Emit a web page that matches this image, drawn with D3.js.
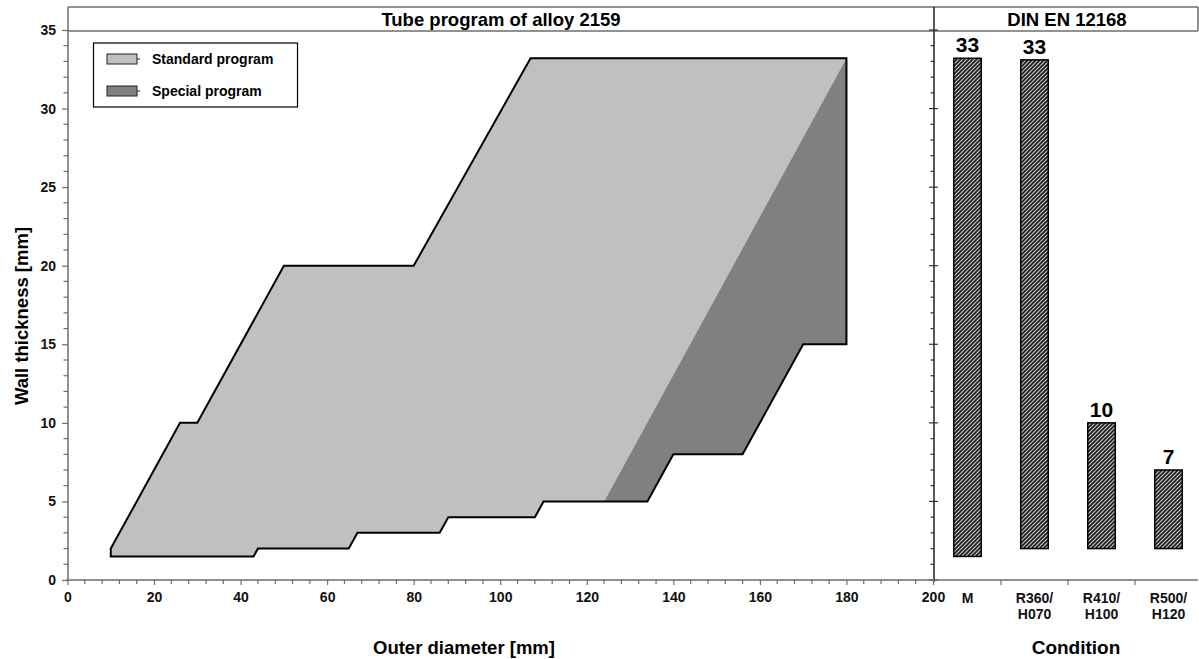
<!DOCTYPE html>
<html>
<head>
<meta charset="utf-8">
<script src="https://cdn.jsdelivr.net/npm/d3@7"></script>
<style>
  body { margin: 0; background: #fff; }
  svg { font-family: "Liberation Sans", Arial, sans-serif; font-weight: bold; }
</style>
</head>
<body>
<div id="container"></div>
<script>
// outline of the standard program [outer diameter, wall thickness]
const standardProgram = [
  [10, 1.5], [10, 2], [26, 10], [30, 10], [50, 20], [80, 20], [107, 33.2], [180, 33.2],
  [124, 5], [110, 5], [108, 4], [88, 4], [86, 3], [67, 3], [65, 2], [44, 2], [43, 1.5]
];
// outline of the special program
const specialProgram = [
  [124, 5], [134, 5], [140, 8], [156, 8], [170, 15], [180, 15], [180, 33.2]
];

// DIN EN 12168 conditions: wall thickness range
const conditions = ['M', 'R360/H070', 'R410/H100', 'R500/H120'];
const condMin = [1.5, 2, 2, 2];
const condMax = [33.2, 33.1, 10, 7];
const condLabels = ['33', '33', '10', '7'];

const xTicks = [0, 20, 40, 60, 80, 100, 120, 140, 160, 180, 200];
const yTicks = [0, 5, 10, 15, 20, 25, 30, 35];

const W = 1199, H = 659;
const frameTop = 7, headerBottom = 31, frameRight = 1198;

const svg = d3.select('#container')
  .append('svg')
  .attr('width', W)
  .attr('height', H);

// scales
const x = d3.scaleLinear().domain([0, 200]).range([67.5, 933]);
const y = d3.scaleLinear().domain([0, 35]).range([580, 30]);
const band = d3.scaleBand().domain(conditions).range([934, 1202]);

// hatch pattern for the bars
const defs = svg.append('defs');
const pat = defs.append('pattern')
  .attr('id', 'hatch')
  .attr('patternUnits', 'userSpaceOnUse')
  .attr('width', 4).attr('height', 4);
pat.append('rect').attr('width', 4).attr('height', 4).attr('fill', '#c4c4c4');
pat.append('path')
  .attr('d', 'M-1,1 l2,-2 M0,4 l4,-4 M3,5 l2,-2')
  .attr('stroke', '#1a1a1a')
  .attr('stroke-width', 1.6);

// program areas
const line = d3.line().x(d => x(d[0])).y(d => y(d[1]));

svg.append('path')
  .attr('d', line(standardProgram) + 'Z')
  .attr('fill', '#c0c0c0');

svg.append('path')
  .attr('d', line(specialProgram) + 'Z')
  .attr('fill', '#808080');

// outer outline of both areas
const specialRev = specialProgram.slice().reverse();
const outline = standardProgram.slice(0, 8)
  .concat(specialRev.slice(1))
  .concat(standardProgram.slice(9));
svg.append('path')
  .attr('d', line(outline) + 'Z')
  .attr('fill', 'none')
  .attr('stroke', '#000')
  .attr('stroke-width', 2)
  .attr('stroke-linejoin', 'miter');

// frame lines
const frameColor = '#6e6e6e';
const frame = svg.append('g').attr('stroke', frameColor).attr('stroke-width', 1.5);
frame.append('line').attr('x1', 68).attr('x2', frameRight).attr('y1', frameTop).attr('y2', frameTop);
frame.append('line').attr('x1', 68).attr('x2', frameRight).attr('y1', headerBottom).attr('y2', headerBottom);
frame.append('line').attr('x1', 68).attr('x2', 68).attr('y1', frameTop).attr('y2', 581);
frame.append('line').attr('x1', 934).attr('x2', 934).attr('y1', frameTop).attr('y2', 582)
  .attr('stroke', '#222');
frame.append('line').attr('x1', frameRight).attr('x2', frameRight).attr('y1', frameTop).attr('y2', headerBottom);

// y axis (left)
const yAxis = d3.axisLeft(y).tickValues(yTicks).tickSize(6).tickPadding(6);
const gy = svg.append('g').attr('transform', 'translate(68,0)').call(yAxis);
gy.select('.domain').remove();
gy.selectAll('.tick line').attr('stroke', frameColor).attr('stroke-width', 1.2);
gy.selectAll('text').attr('font-size', 14).attr('font-weight', 'bold').attr('fill', '#111');

const yMinor = d3.range(0, 36).filter(v => v % 5 !== 0);
svg.append('g').selectAll('line').data(yMinor).join('line')
  .attr('x1', 63.5).attr('x2', 68)
  .attr('y1', d => y(d)).attr('y2', d => y(d))
  .attr('stroke', frameColor).attr('stroke-width', 1.2);

// ticks on the separator
svg.append('g').selectAll('line').data(d3.range(0, 36)).join('line')
  .attr('x1', d => d % 5 === 0 ? 929 : 930.5)
  .attr('x2', d => d % 5 === 0 ? 938 : 934)
  .attr('y1', d => y(d)).attr('y2', d => y(d))
  .attr('stroke', '#333').attr('stroke-width', 1.2);

// x axis (bottom)
const xAxis = d3.axisBottom(x).tickValues(xTicks).tickSize(5).tickPadding(7);
const gx = svg.append('g').attr('transform', 'translate(0,580)').call(xAxis);
gx.select('.domain').remove();
gx.selectAll('.tick line').attr('stroke', frameColor).attr('stroke-width', 1.2);
gx.selectAll('text').attr('font-size', 14).attr('font-weight', 'bold').attr('fill', '#111');

const xMinor = d3.range(0, 201, 4).filter(v => v % 20 !== 0);
svg.append('g').selectAll('line').data(xMinor).join('line')
  .attr('x1', d => x(d)).attr('x2', d => x(d))
  .attr('y1', 580).attr('y2', 584)
  .attr('stroke', frameColor).attr('stroke-width', 1.2);

svg.append('line')
  .attr('x1', 66).attr('x2', frameRight).attr('y1', 580).attr('y2', 580)
  .attr('stroke', frameColor).attr('stroke-width', 1.5);

// condition axis ticks and labels
svg.append('g').selectAll('line').data(conditions.slice(1)).join('line')
  .attr('x1', d => band(d)).attr('x2', d => band(d))
  .attr('y1', 580).attr('y2', 585)
  .attr('stroke', frameColor).attr('stroke-width', 1.2);

const condText = svg.append('g').selectAll('text').data(conditions).join('text')
  .attr('x', d => band(d) + band.bandwidth() / 2)
  .attr('y', 603)
  .attr('text-anchor', 'middle')
  .attr('font-size', 14)
  .attr('fill', '#111');
condText.each(function (d) {
  const parts = d.split('/');
  const t = d3.select(this);
  parts.forEach((p, i) => {
    t.append('tspan')
      .attr('x', band(d) + band.bandwidth() / 2)
      .attr('dy', i === 0 ? 0 : 16)
      .text(i < parts.length - 1 ? p + '/' : p);
  });
});

// condition bars
const barW = band.bandwidth() * 0.41;
svg.append('g').selectAll('rect').data(conditions).join('rect')
  .attr('x', d => band(d) + band.bandwidth() / 2 - barW / 2)
  .attr('width', barW)
  .attr('y', (d, i) => y(condMax[i]))
  .attr('height', (d, i) => y(condMin[i]) - y(condMax[i]))
  .attr('fill', 'url(#hatch)')
  .attr('stroke', '#000')
  .attr('stroke-width', 1.5);

svg.append('g').selectAll('text').data(conditions).join('text')
  .attr('x', d => band(d) + band.bandwidth() / 2)
  .attr('y', (d, i) => y(condMax[i]) - 6)
  .attr('text-anchor', 'middle')
  .attr('font-size', 21)
  .text((d, i) => condLabels[i]);

// panel titles
svg.append('text')
  .attr('x', 501).attr('y', 26)
  .attr('text-anchor', 'middle')
  .attr('font-size', 18.5)
  .text('Tube program of alloy 2159');

svg.append('text')
  .attr('x', 1067).attr('y', 26)
  .attr('text-anchor', 'middle')
  .attr('font-size', 18.5)
  .text('DIN EN 12168');

// axis titles
svg.append('text')
  .attr('x', 464).attr('y', 654)
  .attr('text-anchor', 'middle')
  .attr('font-size', 18.5)
  .text('Outer diameter [mm]');

svg.append('text')
  .attr('x', 1076).attr('y', 654)
  .attr('text-anchor', 'middle')
  .attr('font-size', 19)
  .text('Condition');

svg.append('text')
  .attr('transform', 'translate(28,316) rotate(-90)')
  .attr('text-anchor', 'middle')
  .attr('font-size', 18.5)
  .text('Wall thickness [mm]');

// legend
const legendItems = ['Standard program', 'Special program'];
const legendFills = ['#c0c0c0', '#808080'];
const legend = svg.append('g');
legend.append('rect')
  .attr('x', 93.5).attr('y', 43)
  .attr('width', 204).attr('height', 64)
  .attr('fill', '#fff')
  .attr('stroke', '#000')
  .attr('stroke-width', 1.2);
const li = legend.selectAll('g.item').data(legendItems).join('g')
  .attr('class', 'item')
  .attr('transform', (d, i) => `translate(0,${59 + i * 32})`);
li.append('rect')
  .attr('x', 107).attr('y', -5)
  .attr('width', 30).attr('height', 10)
  .attr('fill', (d, i) => legendFills[i])
  .attr('stroke', '#222');
li.append('line')
  .attr('x1', 137).attr('x2', 140).attr('y1', 0).attr('y2', 0)
  .attr('stroke', '#222');
li.append('text')
  .attr('x', 152).attr('y', 4.5)
  .attr('font-size', 14)
  .text(d => d);
</script>
</body>
</html>
